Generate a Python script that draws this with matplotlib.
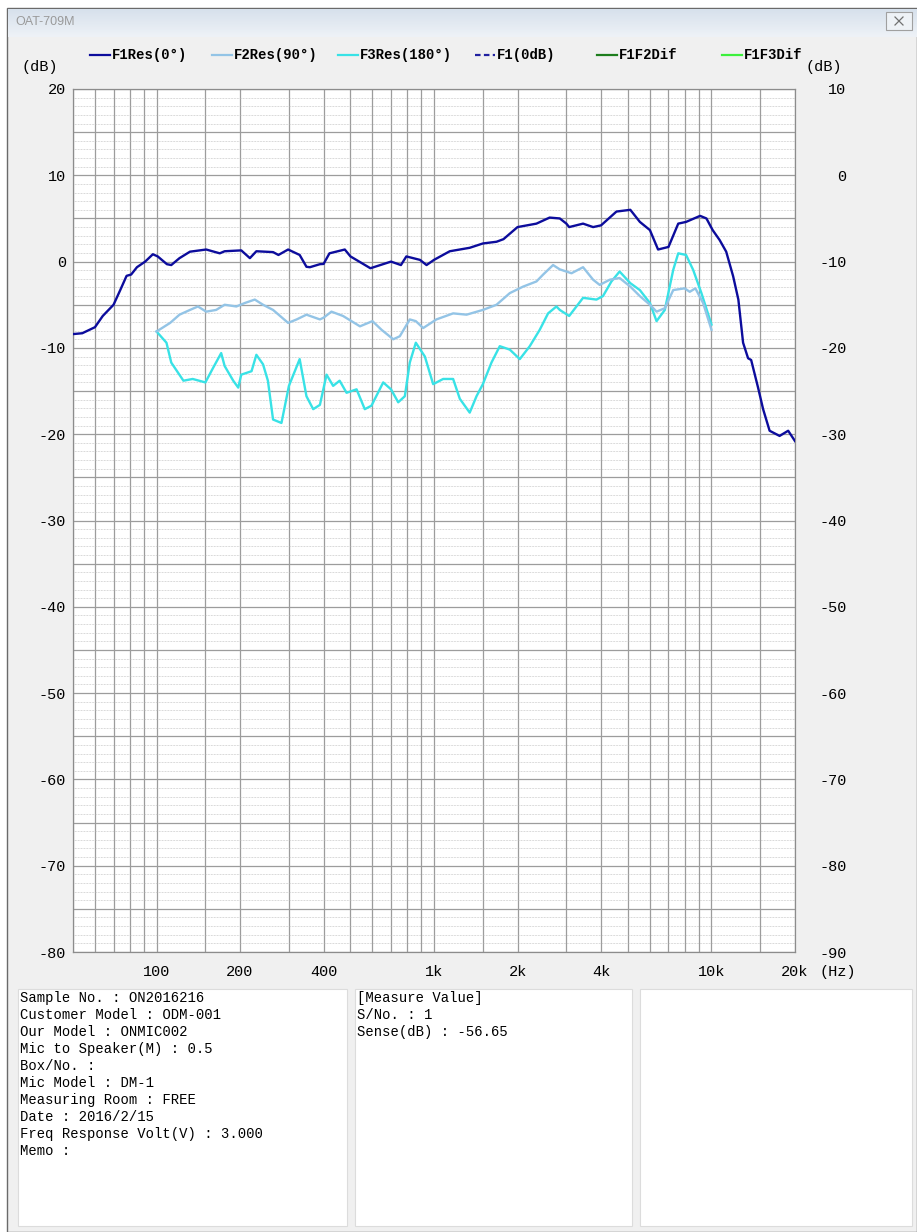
import numpy as np
import matplotlib.pyplot as plt
from matplotlib.patches import Rectangle
from matplotlib.colors import LinearSegmentedColormap
from matplotlib.ticker import NullLocator

W, H = 917, 1232
MONO = ["Liberation Mono", "DejaVu Sans Mono"]

# ---- data ----
f1_freq = [50, 54, 60, 64, 70, 74, 78, 81, 85, 91, 97, 101, 109, 113, 121, 132,
           151, 169, 176, 202, 217, 229, 263, 275, 298, 328, 347, 357, 388, 400,
           420, 477, 500, 590, 700, 760, 795, 890, 940, 1000, 1140, 1345, 1500,
           1680, 1780, 2000, 2340, 2610, 2840, 3000, 3070, 3445, 3745, 4000, 4545,
           5100, 5520, 6000, 6420, 7000, 7590, 8100, 9100, 9590, 10100, 10700,
           11300, 11970, 12500, 13000, 13550, 13900, 14720, 15350, 16200, 17600,
           18900, 20000]
f1_db = [-8.4, -8.3, -7.6, -6.3, -5.0, -3.3, -1.65, -1.5, -0.65, 0.0, 0.85, 0.6,
         -0.3, -0.4, 0.4, 1.15, 1.4, 0.96, 1.2, 1.3, 0.4, 1.2, 1.1, 0.77, 1.4, 0.77,
         -0.6, -0.65, -0.3, -0.27, 0.96, 1.4, 0.6, -0.77, 0.0, -0.4, 0.6, 0.2, -0.4,
         0.2, 1.2, 1.6, 2.1, 2.3, 2.6, 4.0, 4.4, 5.1, 5.0, 4.4, 4.0, 4.4, 4.0, 4.2,
         5.8, 6.0, 4.6, 3.65, 1.4, 1.7, 4.4, 4.6, 5.3, 5.0, 3.65, 2.5, 1.15, -1.7,
         -4.4, -9.4, -11.2, -11.4, -14.6, -17.1, -19.6, -20.2, -19.6, -20.8]

f2_freq = [100, 112, 121, 132, 141, 151, 164, 176, 194, 208, 226, 242, 263, 298,
           320, 347, 388, 400, 427, 470, 541, 600, 647, 713, 753, 818, 860, 914,
           1020, 1172, 1310, 1500, 1680, 1876, 2094, 2340, 2474, 2686, 2840, 3130,
           3445, 3745, 3955, 4300, 4665, 5100, 5520, 6000, 6340, 6790, 7280, 8000,
           8350, 8750, 9330, 10000]
f2_db = [-8.1, -7.1, -6.15, -5.6, -5.2, -5.8, -5.6, -5.0, -5.2, -4.8, -4.4, -5.0,
         -5.6, -7.1, -6.7, -6.15, -6.7, -6.5, -5.8, -6.3, -7.5, -6.9, -7.9, -9.0,
         -8.65, -6.7, -6.9, -7.7, -6.7, -6.0, -6.15, -5.6, -5.0, -3.65, -2.9, -2.3,
         -1.5, -0.4, -0.9, -1.35, -0.65, -2.1, -2.7, -2.1, -1.9, -2.9, -4.0, -5.0,
         -5.8, -5.4, -3.3, -3.1, -3.5, -3.1, -4.8, -7.9]

f3_freq = [100, 108.6, 113, 125, 135, 150, 160, 171, 176, 189, 197, 202, 220, 229,
           242, 252, 263, 282, 300, 328, 347, 367, 388, 410, 433, 457, 484, 526,
           563, 595, 656, 700, 743, 785, 818, 860, 927, 993, 1079, 1172, 1239, 1345,
           1423, 1500, 1611, 1726, 1876, 2038, 2214, 2405, 2577, 2762, 2840, 3070,
           3445, 3850, 4064, 4360, 4665, 5100, 5520, 6000, 6340, 6790, 7280, 7590,
           8100, 8590, 9200, 10000]
f3_db = [-8.1, -9.4, -11.7, -13.8, -13.6, -14.0, -12.3, -10.6, -12.1, -13.8, -14.6,
         -13.1, -12.7, -10.8, -11.9, -13.8, -18.3, -18.7, -14.4, -11.3, -15.6, -17.1,
         -16.6, -13.1, -14.4, -13.8, -15.2, -14.8, -17.1, -16.7, -14.0, -14.8, -16.3,
         -15.6, -11.7, -9.4, -11.0, -14.2, -13.6, -13.6, -15.9, -17.5, -15.6, -14.2,
         -11.7, -9.8, -10.2, -11.3, -9.8, -7.9, -6.0, -5.2, -5.6, -6.3, -4.2, -4.4,
         -4.0, -2.3, -1.15, -2.5, -3.3, -4.8, -6.9, -5.6, -0.96, 0.96, 0.77, -0.96,
         -3.65, -7.3]

x_ticks = [100, 200, 400, 1000, 2000, 4000, 10000, 20000]
x_tick_labels = ["100", "200", "400", "1k", "2k", "4k", "10k", "20k"]
grid_freqs = [50, 60, 70, 80, 90, 100, 150, 200, 300, 400, 500, 600, 700, 800, 900,
              1000, 1500, 2000, 3000, 4000, 5000, 6000, 7000, 8000, 9000, 10000,
              15000, 20000]
left_ticks = list(range(-80, 21, 10))
right_ticks = list(range(-90, 11, 10))

legend_labels = ["F1Res(0°)", "F2Res(90°)", "F3Res(180°)", "F1(0dB)", "F1F2Dif", "F1F3Dif"]
legend_colors = ["#0c0c9c", "#93c4e6", "#38e2e6", "#2020a0", "#1d7d1d", "#3cf03c"]

info_lines = ["Sample No. : ON2016216", "Customer Model : ODM-001", "Our Model : ONMIC002",
              "Mic to Speaker(M) : 0.5", "Box/No. :", "Mic Model : DM-1",
              "Measuring Room : FREE", "Date : 2016/2/15",
              "Freq Response Volt(V) : 3.000", "Memo :"]
measure_lines = ["[Measure Value]", "S/No. : 1", "Sense(dB) : -56.65"]

# ---- window background ----
fig = plt.figure(figsize=(W / 100, H / 100), dpi=100)
fig.patch.set_facecolor("white")

bg = fig.add_axes([0, 0, 1, 1])
bg.axis("off")
bg.add_patch(Rectangle((7, 8), W - 7, H - 8, facecolor="#f0f0f0",
                       edgecolor="#6a6a6a", lw=1))
grad = np.linspace(0, 1, 40).reshape(-1, 1)
tb_cmap = LinearSegmentedColormap.from_list("tb", ["#d7e1ec", "#eef2f7"])
bg.imshow(grad, extent=(8, W, 37, 9), aspect="auto", cmap=tb_cmap, zorder=1)
bg.text(15, 22, "OAT-709M", color="#9a9a9a", fontsize=9, va="center",
        family=["Liberation Sans", "DejaVu Sans"], zorder=3)
bg.add_patch(Rectangle((886, 12), 26, 18, facecolor="#eef2f6", edgecolor="#a0a0a0", lw=0.8, zorder=3))
bg.plot([895, 903], [17, 25], color="#707070", lw=0.9, zorder=4)
bg.plot([895, 903], [25, 17], color="#707070", lw=0.9, zorder=4)

# legend row
legend_x = [90, 212, 338, 475, 597, 722]
for i, (lab, col) in enumerate(zip(legend_labels, legend_colors)):
    x0 = legend_x[i]
    ls = (0, (2.5, 1.5)) if lab == "F1(0dB)" else "-"
    bg.plot([x0, x0 + 20], [55, 55], color=col, lw=1.6, ls=ls, zorder=3)
    bg.text(x0 + 22, 55, lab, fontsize=10, fontweight="bold", family=MONO,
            va="center", ha="left", zorder=3)

bg.text(22, 67, "(dB)", fontsize=11, family=MONO, va="center")
bg.text(806, 67, "(dB)", fontsize=11, family=MONO, va="center")
bg.text(819, 972, "(Hz)", fontsize=11, family=MONO, va="center")

# info panels
for x0, x1 in [(18, 347), (355, 632), (640, 912)]:
    bg.add_patch(Rectangle((x0, 989), x1 - x0, 237, facecolor="white",
                           edgecolor="#dcdcdc", lw=0.8, zorder=2))
for i, line in enumerate(info_lines):
    bg.text(20, 998 + 17 * i, line, fontsize=10, family=MONO, va="center", zorder=3)
for i, line in enumerate(measure_lines):
    bg.text(357, 998 + 17 * i, line, fontsize=10, family=MONO, va="center", zorder=3)

bg.set_xlim(0, W)
bg.set_ylim(H, 0)

# ---- response plot ----
ax = fig.add_axes([73 / W, 1 - 952 / H, (795 - 73) / W, (952 - 89) / H])
ax.set_facecolor("white")
ax.set_xscale("log")

for f in grid_freqs:
    ax.axvline(f, color="#9c9c9c", lw=0.9, zorder=1)
for v in range(-80, 21):
    if v % 5 == 0:
        ax.axhline(v, color="#9c9c9c", lw=0.9, zorder=1)
    else:
        ax.axhline(v, color="#b4b4b4", lw=0.5, ls=(0, (1, 1.2)), zorder=1)

ax.plot(f3_freq, f3_db, color=legend_colors[2], lw=1.7, zorder=4)
ax.plot(f2_freq, f2_db, color=legend_colors[1], lw=1.7, zorder=4)
ax.plot(f1_freq, f1_db, color=legend_colors[0], lw=1.7, zorder=5)

ax.set_xlim(50, 20000)
ax.set_ylim(-80, 20)
ax.set_xticks(x_ticks, x_tick_labels)
ax.xaxis.set_minor_locator(NullLocator())
ax.set_yticks(left_ticks, [str(t) for t in left_ticks])
ax.tick_params(length=0, labelsize=11, pad=5)
ax.tick_params(axis="x", pad=9)
for lbl in ax.get_xticklabels() + ax.get_yticklabels():
    lbl.set_family(MONO)
for sp in ax.spines.values():
    sp.set_color("#8c8c8c")
    sp.set_linewidth(0.9)

ax2 = ax.twinx()
ax2.set_ylim(-90, 10)
ax2.set_yticks(right_ticks, [str(t) for t in right_ticks], ha="right")
ax2.tick_params(length=0, labelsize=11, pad=37)
for lbl in ax2.get_yticklabels():
    lbl.set_family(MONO)
for sp in ax2.spines.values():
    sp.set_visible(False)

fig.savefig("out.png", dpi=100)
